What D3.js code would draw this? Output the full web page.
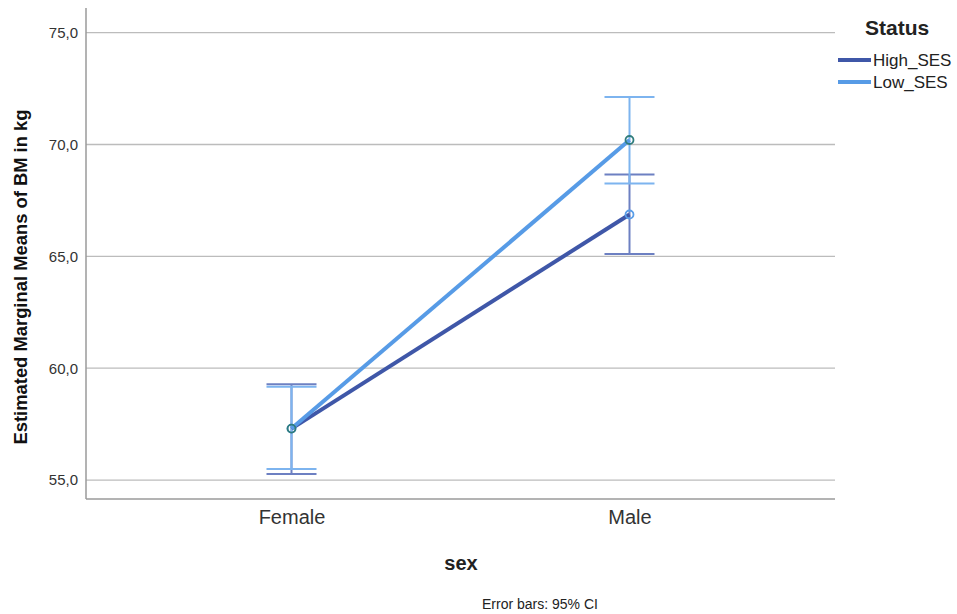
<!DOCTYPE html>
<html><head><meta charset="utf-8">
<script src="https://cdn.jsdelivr.net/npm/d3@7"></script>
<style>body{margin:0;background:#fff;}svg{display:block;font-family:"Liberation Sans",Arial,sans-serif;}</style>
</head><body>
<svg id="c" width="957" height="614"></svg>
<script>
const categories = ["Female", "Male"];
const seriesNames = ["High_SES", "Low_SES"];
const highMean = [57.3, 66.87];
const highLower = [55.27, 65.11];
const highUpper = [59.28, 68.66];
const lowMean = [57.3, 70.2];
const lowLower = [55.49, 68.26];
const lowUpper = [59.17, 72.12];
const yTicks = [55, 60, 65, 70, 75];
const yTickLabels = ["55,0", "60,0", "65,0", "70,0", "75,0"];

const svg = d3.select("#c");
const L = 86, R = 835, T = 8, B = 499;
const x = d3.scalePoint().domain(categories).range([L, R]).padding(0.608);
const y = d3.scaleLinear().domain([55 - 19/22.42, 75 + 24.7/22.42]).range([B, T]);

// gridlines
svg.append("g").selectAll("line").data(yTicks).join("line")
  .attr("x1", L).attr("x2", R).attr("y1", d => y(d)).attr("y2", d => y(d))
  .attr("stroke", "#bcbcbc").attr("stroke-width", 1.3);

// y axis
const yAxis = d3.axisLeft(y).tickValues(yTicks).tickFormat((d,i) => yTickLabels[i]).tickSize(0).tickPadding(8);
const gy = svg.append("g").attr("transform", `translate(${L},0)`).call(yAxis);
gy.select(".domain").remove();
gy.selectAll("text").attr("font-size", 15).attr("fill", "#333").attr("font-family", "Liberation Sans, Arial, sans-serif");
svg.append("line").attr("x1", L).attr("x2", L).attr("y1", T).attr("y2", B).attr("stroke", "#9a9a9a").attr("stroke-width", 1.5);

// x axis
const xAxis = d3.axisBottom(x).tickSize(0).tickPadding(11);
const gx = svg.append("g").attr("transform", `translate(0,${B})`).call(xAxis);
gx.select(".domain").remove();
gx.selectAll("text").attr("font-size", 20).attr("fill", "#333").attr("font-family", "Liberation Sans, Arial, sans-serif");
svg.append("line").attr("x1", L).attr("x2", R).attr("y1", B).attr("y2", B).attr("stroke", "#9a9a9a").attr("stroke-width", 1.5);

const series = [
  {name: seriesNames[0], mean: highMean, lo: highLower, hi: highUpper, line: "#3f57a8", err: "#6d80c2", marker: "#5a9ee8"},
  {name: seriesNames[1], mean: lowMean, lo: lowLower, hi: lowUpper, line: "#579be6", err: "#7db4ef", marker: "#2f7c7c"}
];
const capW = 25;
// error bars
series.forEach(s => {
  const g = svg.append("g");
  categories.forEach((c, i) => {
    const cx = x(c);
    g.append("line").attr("x1", cx).attr("x2", cx).attr("y1", y(s.lo[i])).attr("y2", y(s.hi[i])).attr("stroke", s.err).attr("stroke-width", 2);
    [s.lo[i], s.hi[i]].forEach(v => g.append("line").attr("x1", cx - capW).attr("x2", cx + capW).attr("y1", y(v)).attr("y2", y(v)).attr("stroke", s.err).attr("stroke-width", 2));
  });
});
// lines
const line = d3.line().x((d, i) => x(categories[i])).y(d => y(d));
series.forEach(s => {
  svg.append("path").datum(s.mean).attr("d", line).attr("fill", "none").attr("stroke", s.line).attr("stroke-width", 4);
});
// markers
series.forEach(s => {
  svg.append("g").selectAll("circle").data(s.mean).join("circle")
    .attr("cx", (d, i) => x(categories[i])).attr("cy", d => y(d)).attr("r", 4)
    .attr("fill", "none").attr("stroke", s.marker).attr("stroke-width", 1.8);
});

// legend
svg.append("text").attr("x", 865).attr("y", 35).attr("font-size", 21).attr("font-weight", "bold").attr("fill", "#222").text("Status");
series.forEach((s, i) => {
  const ly = 60 + i * 22;
  svg.append("line").attr("x1", 838).attr("x2", 871).attr("y1", ly).attr("y2", ly).attr("stroke", s.line).attr("stroke-width", 4);
  svg.append("text").attr("x", 873).attr("y", ly + 6).attr("font-size", 17).attr("fill", "#222").text(s.name);
});

// axis titles
svg.append("text").attr("transform", "translate(27,277) rotate(-90)").attr("text-anchor", "middle")
  .attr("font-size", 19).attr("font-weight", "bold").attr("fill", "#111")
  .attr("textLength", 335).attr("lengthAdjust", "spacingAndGlyphs")
  .text("Estimated Marginal Means of BM in kg");
svg.append("text").attr("x", 461).attr("y", 570).attr("text-anchor", "middle").attr("font-size", 20).attr("font-weight", "bold").attr("fill", "#222").text("sex");
svg.append("text").attr("x", 540).attr("y", 609).attr("text-anchor", "middle").attr("font-size", 14).attr("fill", "#222").text("Error bars: 95% CI");
</script>
</body></html>
